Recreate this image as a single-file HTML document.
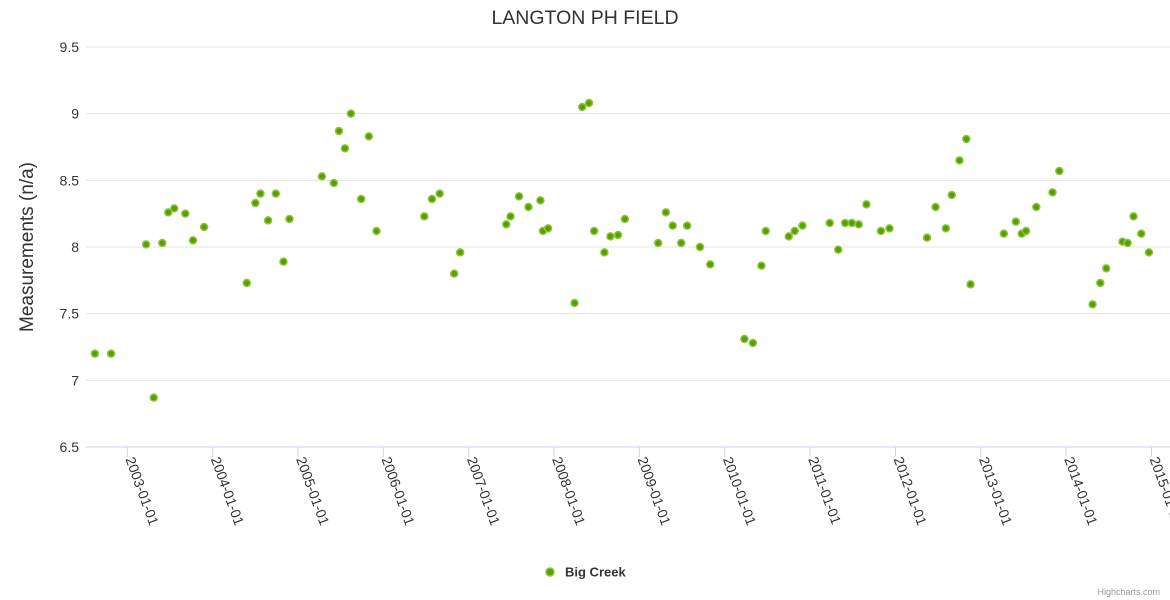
<!DOCTYPE html>
<html><head><meta charset="utf-8"><style>
body{margin:0;background:#fff;}
svg{display:block;font-family:"Liberation Sans",sans-serif;}
</style></head><body>
<svg id="c" width="1170" height="600" viewBox="0 0 1170 600">
<text x="585" y="24" text-anchor="middle" font-size="19.5" fill="#333">LANGTON PH FIELD</text>
<text transform="translate(33,247) rotate(-90)" text-anchor="middle" font-size="19" fill="#333">Measurements (n/a)</text>
<g id="grid"></g><g id="xax"></g><g id="pts"></g>
<g>
<circle cx="550" cy="572" r="4" fill="#5a9e00" stroke="#8cc63f" stroke-width="1.5"/>
<text x="565" y="576.5" font-size="13" font-weight="bold" fill="#333">Big Creek</text>
</g>
<text x="1160" y="595" text-anchor="end" font-size="9" fill="#999">Highcharts.com</text>
</svg>
<script>
const yTicks=[6.5,7,7.5,8,8.5,9,9.5];
const yTickLabels=["6.5","7","7.5","8","8.5","9","9.5"];
const xTickYears=[2003,2004,2005,2006,2007,2008,2009,2010,2011,2012,2013,2014,2015];
const dates=[2002.62,2002.81,2003.22,2003.31,2003.41,2003.48,2003.55,2003.68,2003.77,2003.90,2004.40,2004.50,2004.56,2004.65,2004.74,2004.83,2004.90,2005.28,2005.42,2005.48,2005.55,2005.62,2005.74,2005.83,2005.92,2006.48,2006.57,2006.66,2006.83,2006.90,2007.44,2007.49,2007.59,2007.70,2007.84,2007.87,2007.93,2008.24,2008.33,2008.41,2008.47,2008.59,2008.66,2008.75,2008.83,2009.22,2009.31,2009.39,2009.49,2009.56,2009.71,2009.83,2010.23,2010.33,2010.43,2010.48,2010.75,2010.82,2010.91,2011.23,2011.33,2011.41,2011.49,2011.57,2011.66,2011.83,2011.93,2012.37,2012.47,2012.59,2012.66,2012.75,2012.83,2012.88,2013.27,2013.41,2013.48,2013.53,2013.65,2013.84,2013.92,2014.31,2014.40,2014.47,2014.66,2014.72,2014.79,2014.88,2014.97];
const values=[7.2,7.2,8.02,6.87,8.03,8.26,8.29,8.25,8.05,8.15,7.73,8.33,8.40,8.20,8.40,7.89,8.21,8.53,8.48,8.87,8.74,9.0,8.36,8.83,8.12,8.23,8.36,8.40,7.80,7.96,8.17,8.23,8.38,8.30,8.35,8.12,8.14,7.58,9.05,9.08,8.12,7.96,8.08,8.09,8.21,8.03,8.26,8.16,8.03,8.16,8.00,7.87,7.31,7.28,7.86,8.12,8.08,8.12,8.16,8.18,7.98,8.18,8.18,8.17,8.32,8.12,8.14,8.07,8.30,8.14,8.39,8.65,8.81,7.72,8.10,8.19,8.10,8.12,8.30,8.41,8.57,7.57,7.73,7.84,8.04,8.03,8.23,8.10,7.96];
const NS="http://www.w3.org/2000/svg";
const L=86,R=1170;
const y=v=>447-(v-6.5)*133.33;
const x=t=>127.3+(t-2003)*85.35;
function mk(tag,attrs,parent){const e=document.createElementNS(NS,tag);for(const k in attrs)e.setAttribute(k,attrs[k]);parent.appendChild(e);return e;}
const grid=document.getElementById('grid');
yTicks.forEach((v,i)=>{
 const ln=mk('line',{x1:L,x2:R,y1:y(v),y2:y(v),stroke:i==0?'#ccd6eb':'#e6e6e6','stroke-width':1},grid);
 
 
 const t=mk('text',{x:79,y:y(v)+5,'text-anchor':'end','font-size':14,fill:'#333'},grid);
 t.textContent=yTickLabels[i];
 
 
});
const xax=document.getElementById('xax');
xTickYears.forEach(yr=>{
 const px=x(yr);
 const tk=mk('line',{x1:px,x2:px,y1:447,y2:457,stroke:'#ccd6eb'},xax);
 
 
 const t=mk('text',{transform:`translate(${px-2},459) rotate(70)`,'font-size':14,fill:'#333'},xax);
 t.textContent=yr+'-01-01';
 
 
});
const pts=document.getElementById('pts');
dates.forEach((d,i)=>{
 const c=mk('circle',{cx:x(d),cy:y(values[i]),r:3.5,fill:'#5a9e00',stroke:'#8cc63f','stroke-width':1.5},pts);
 
 
});
</script>
</body></html>
